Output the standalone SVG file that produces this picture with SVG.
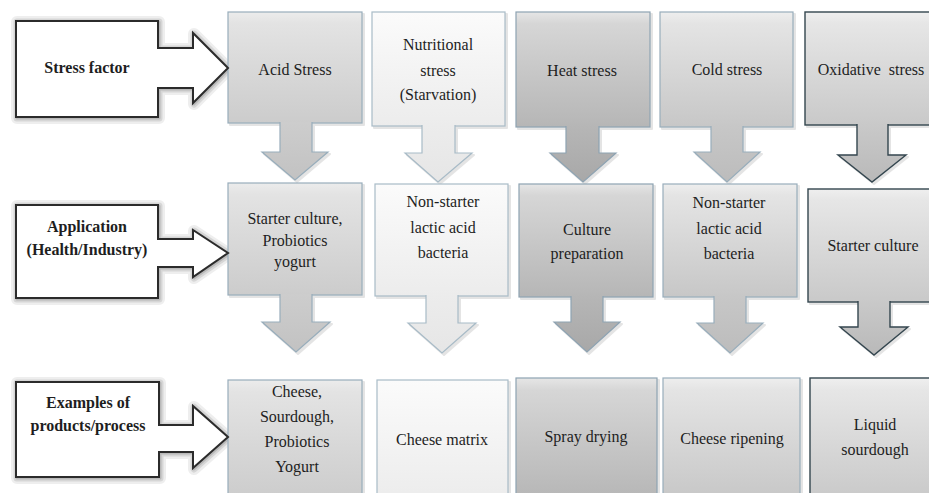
<svg xmlns="http://www.w3.org/2000/svg" width="929" height="493" viewBox="0 0 929 493">
<style>
.t{font-size:16px;fill:#1e1e1e;text-anchor:middle}
.b{font-weight:bold}
.lbl{fill:#ffffff;stroke:#2b2b2b;stroke-width:2}
.c1{fill:url(#g1);stroke:#98adbb;stroke-width:1.2}
.c2{fill:url(#g2);stroke:#a8bbc7;stroke-width:1.2}
.c3{fill:url(#g3);stroke:#8ea3b2;stroke-width:1.2}
.c4{fill:url(#g4);stroke:#98adbb;stroke-width:1.2}
.c5{fill:url(#g5);stroke:#34464f;stroke-width:1.4}
.a1{fill:url(#ga1);stroke:#98adbb;stroke-width:1.2}
.a2{fill:url(#ga2);stroke:#a8bbc7;stroke-width:1.2}
.a3{fill:url(#ga3);stroke:#8ea3b2;stroke-width:1.2}
.a4{fill:url(#ga4);stroke:#98adbb;stroke-width:1.2}
.a5{fill:url(#ga5);stroke:#34464f;stroke-width:1.4}
.al{fill:#ffffff;stroke:#2b2b2b;stroke-width:2}
.h1{fill:#7a7a7a;stroke:#7a7a7a;stroke-width:12;stroke-linejoin:round;opacity:0.12}
.h2{fill:#7a7a7a;stroke:#7a7a7a;stroke-width:7;stroke-linejoin:round;opacity:0.2}
.h3{fill:#7a7a7a;stroke:#7a7a7a;stroke-width:3;stroke-linejoin:round;opacity:0.3}
.hc{fill:#8a8a8a;stroke:#8a8a8a;stroke-width:2;stroke-linejoin:round;opacity:0.22}
</style>
<defs>
<linearGradient id="g1" x1="0" y1="0" x2="0" y2="1"><stop offset="0" stop-color="#ececec"/><stop offset="0.1" stop-color="#e3e3e3"/><stop offset="1" stop-color="#cccccc"/></linearGradient>
<linearGradient id="g2" x1="0" y1="0" x2="0" y2="1"><stop offset="0" stop-color="#fbfbfb"/><stop offset="1" stop-color="#ececec"/></linearGradient>
<linearGradient id="g3" x1="0" y1="0" x2="0" y2="1"><stop offset="0" stop-color="#e6e6e6"/><stop offset="0.1" stop-color="#d6d6d6"/><stop offset="1" stop-color="#b6b6b6"/></linearGradient>
<linearGradient id="g4" x1="0" y1="0" x2="0" y2="1"><stop offset="0" stop-color="#eeeeee"/><stop offset="0.1" stop-color="#e4e4e4"/><stop offset="1" stop-color="#c7c7c7"/></linearGradient>
<linearGradient id="g5" x1="0" y1="0" x2="0" y2="1"><stop offset="0" stop-color="#efefef"/><stop offset="0.1" stop-color="#e6e6e6"/><stop offset="1" stop-color="#c9c9c9"/></linearGradient>
<linearGradient id="ga1" x1="0" y1="0" x2="0" y2="1"><stop offset="0" stop-color="#cdcdcd"/><stop offset="1" stop-color="#c2c2c2"/></linearGradient>
<linearGradient id="ga2" x1="0" y1="0" x2="0" y2="1"><stop offset="0" stop-color="#ececec"/><stop offset="1" stop-color="#e6e6e6"/></linearGradient>
<linearGradient id="ga3" x1="0" y1="0" x2="0" y2="1"><stop offset="0" stop-color="#b6b6b6"/><stop offset="1" stop-color="#a8a8a8"/></linearGradient>
<linearGradient id="ga4" x1="0" y1="0" x2="0" y2="1"><stop offset="0" stop-color="#c7c7c7"/><stop offset="1" stop-color="#bcbcbc"/></linearGradient>
<linearGradient id="ga5" x1="0" y1="0" x2="0" y2="1"><stop offset="0" stop-color="#c9c9c9"/><stop offset="1" stop-color="#b9b9b9"/></linearGradient>
</defs>
<rect width="929" height="493" fill="#ffffff"/>

<g id="label-stress">
<path class="h1" d="M17,22 H159 V49 H194 V34 L229,69 L194,104 V89 H159 V118 H17 Z"/>
<path class="h2" d="M17,22 H159 V49 H194 V34 L229,69 L194,104 V89 H159 V118 H17 Z"/>
<path class="h3" d="M17,22 H159 V49 H194 V34 L229,69 L194,104 V89 H159 V118 H17 Z"/>
<rect class="lbl" x="16" y="21" width="142" height="96"/>
</g>
<g id="label-application">
<path class="h1" d="M17,206 H159 V240 H194 V231 L229,254 L194,278 V268 H159 V299 H17 Z"/>
<path class="h2" d="M17,206 H159 V240 H194 V231 L229,254 L194,278 V268 H159 V299 H17 Z"/>
<path class="h3" d="M17,206 H159 V240 H194 V231 L229,254 L194,278 V268 H159 V299 H17 Z"/>
<rect class="lbl" x="16" y="205" width="142" height="93"/>
</g>
<g id="label-examples">
<path class="h1" d="M17,383 H160 V426 H194 V407 L229,438 L194,469 V453 H160 V478 H17 Z"/>
<path class="h2" d="M17,383 H160 V426 H194 V407 L229,438 L194,469 V453 H160 V478 H17 Z"/>
<path class="h3" d="M17,383 H160 V426 H194 V407 L229,438 L194,469 V453 H160 V478 H17 Z"/>
<rect class="lbl" x="16" y="382" width="143" height="95"/>
</g>

<g id="acid-stress"><path class="hc" d="M230,14 H364 V125 H314 V154 H330 L297,182 L264,154 H282 V125 H230 Z"/><rect class="c1" x="228" y="12" width="134" height="111"/></g>
<g id="acid-application"><path class="hc" d="M230,185 H364 V297 H314 V324 H332 L298,354 L264,324 H282 V297 H230 Z"/><rect class="c1" x="228" y="183" width="134" height="112"/></g>
<g id="acid-examples"><rect class="hc" x="230" y="382" width="134" height="120"/><rect class="c1" x="228" y="380" width="134" height="120"/></g>

<g id="nutritional-stress"><path class="hc" d="M374,14 H507 V128 H457 V155 H474 L440,184 L407,155 H424 V128 H374 Z"/><rect class="c2" x="372" y="12" width="133" height="114"/></g>
<g id="nutritional-application"><path class="hc" d="M377,186 H510 V298 H460 V325 H478 L444,355 L410,325 H428 V298 H377 Z"/><rect class="c2" x="375" y="184" width="133" height="112"/></g>
<g id="nutritional-examples"><rect class="hc" x="379" y="382" width="131" height="120"/><rect class="c2" x="377" y="380" width="131" height="120"/></g>

<g id="heat-stress"><path class="hc" d="M518,14 H652 V129 H601 V155 H618 L585,184 L552,155 H568 V129 H518 Z"/><rect class="c3" x="516" y="12" width="134" height="115"/></g>
<g id="heat-application"><path class="hc" d="M521,186 H655 V299 H605 V324 H622 L589,354 L556,324 H573 V299 H521 Z"/><rect class="c3" x="519" y="184" width="134" height="113"/></g>
<g id="heat-examples"><rect class="hc" x="518" y="380" width="141" height="122"/><rect class="c3" x="516" y="378" width="141" height="122"/></g>

<g id="cold-stress"><path class="hc" d="M662,14 H795 V129 H745 V154 H762 L729,184 L696,154 H713 V129 H662 Z"/><rect class="c4" x="660" y="12" width="133" height="115"/></g>
<g id="cold-application"><path class="hc" d="M665,186 H799 V299 H748 V325 H765 L732,355 L699,325 H716 V299 H665 Z"/><rect class="c4" x="663" y="184" width="134" height="113"/></g>
<g id="cold-examples"><rect class="hc" x="665" y="380" width="137" height="122"/><rect class="c4" x="663" y="378" width="137" height="122"/></g>

<g id="oxidative-stress"><path class="hc" d="M807,14 H947 V127 H890 V157 H908 L874,184 L840,157 H859 V127 H807 Z"/><rect class="c5" x="805" y="12" width="140" height="113"/></g>
<g id="oxidative-application"><path class="hc" d="M810,191 H950 V304 H892 V329 H910 L876,357 L842,329 H860 V304 H810 Z"/><rect class="c5" x="808" y="189" width="140" height="113"/></g>
<g id="oxidative-examples"><rect class="hc" x="812" y="380" width="140" height="122"/><rect class="c5" x="810" y="378" width="140" height="122"/></g>

<g id="connectors">
<path class="al" d="M157,48 H193 V33 L228,68 L193,103 V88 H157"/>
<path class="al" d="M157,239 H193 V230 L228,253 L193,277 V267 H157"/>
<path class="al" d="M158,425 H193 V406 L228,437 L193,468 V452 H158"/>
<path class="a1" d="M280,122 V152 H262 L295,180 L328,152 H312 V122"/>
<path class="a1" d="M280,294 V322 H262 L296,352 L330,322 H312 V294"/>
<path class="a2" d="M422,125 V153 H405 L438,182 L472,153 H455 V125"/>
<path class="a2" d="M426,295 V323 H408 L442,353 L476,323 H458 V295"/>
<path class="a3" d="M566,126 V153 H550 L583,182 L616,153 H599 V126"/>
<path class="a3" d="M571,296 V322 H554 L587,352 L620,322 H603 V296"/>
<path class="a4" d="M711,126 V152 H694 L727,182 L760,152 H743 V126"/>
<path class="a4" d="M714,296 V323 H697 L730,353 L763,323 H746 V296"/>
<path class="a5" d="M857,124 V155 H838 L872,182 L906,155 H888 V124"/>
<path class="a5" d="M858,301 V327 H840 L874,355 L908,327 H890 V301"/>
</g>

<g id="labels" font-family="Liberation Serif, Times New Roman, serif">
<text class="t b" x="87" y="73">Stress factor</text>
<text class="t b" x="87" y="232">Application</text><text class="t b" x="87" y="255">(Health/Industry)</text>
<text class="t b" x="88" y="408">Examples of</text><text class="t b" x="88" y="431">products/process</text>
<text class="t" x="295" y="75">Acid Stress</text>
<text class="t" x="295" y="224">Starter culture,</text><text class="t" x="295" y="246">Probiotics</text><text class="t" x="295" y="267">yogurt</text>
<text class="t" x="297" y="397">Cheese,</text><text class="t" x="297" y="422">Sourdough,</text><text class="t" x="297" y="447">Probiotics</text><text class="t" x="297" y="472">Yogurt</text>
<text class="t" x="438" y="50">Nutritional</text><text class="t" x="438" y="76">stress</text><text class="t" x="438" y="100">(Starvation)</text>
<text class="t" x="443" y="207">Non-starter</text><text class="t" x="443" y="233">lactic acid</text><text class="t" x="443" y="258">bacteria</text>
<text class="t" x="442" y="445">Cheese matrix</text>
<text class="t" x="582" y="76">Heat stress</text>
<text class="t" x="587" y="235">Culture</text><text class="t" x="587" y="259">preparation</text>
<text class="t" x="586" y="442">Spray drying</text>
<text class="t" x="727" y="75">Cold stress</text>
<text class="t" x="729" y="208">Non-starter</text><text class="t" x="729" y="234">lactic acid</text><text class="t" x="729" y="259">bacteria</text>
<text class="t" x="732" y="444">Cheese ripening</text>
<text class="t" x="871" y="75">Oxidative&#160; stress</text>
<text class="t" x="873" y="251">Starter culture</text>
<text class="t" x="875" y="430">Liquid</text><text class="t" x="875" y="455">sourdough</text>
</g>
</svg>
